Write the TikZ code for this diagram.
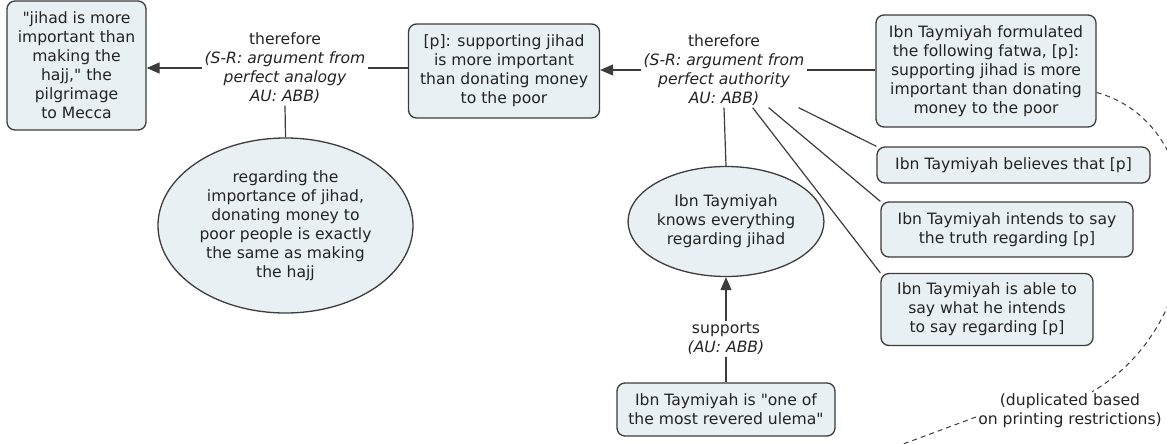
\documentclass[tikz,border=0pt]{standalone}
\usepackage{fontspec}
\setmainfont[Ligatures=TeXOff]{DejaVu Sans}
\usetikzlibrary{arrows.meta,shapes.geometric,calc}
\definecolor{boxfill}{RGB}{233,240,243}
\definecolor{ink}{RGB}{35,35,35}
\definecolor{edge}{RGB}{60,60,60}
\begin{document}
\begin{tikzpicture}[x=1pt,y=-1pt,
  every node/.style={font=\fontsize{15.6}{19}\selectfont, text=ink},
  claim/.style={draw=edge, line width=1.3pt, fill=boxfill, rounded corners=8pt,
                align=center, inner sep=0pt},
  bubble/.style={ellipse, draw=edge, line width=1.3pt, fill=boxfill,
                 align=center, inner sep=0pt},
  link/.style={align=center, inner sep=2pt},
  conn/.style={draw=edge, line width=1.2pt},
  arr/.style={conn, -{Triangle[length=13pt,width=11pt]}},
  dup/.style={draw=edge, line width=1pt, dash pattern=on 5pt off 4pt},
]
\useasboundingbox (0,0) rectangle (1167,444);

% conclusions and premises
\node[claim, minimum width=139pt, minimum height=129pt] (A) at (76.5,65.5)
  {"jihad is more\\important than\\making the\\hajj," the\\pilgrimage\\to Mecca};
\node[claim, minimum width=191pt, minimum height=94pt] (B) at (504,71)
  {[p]: supporting jihad\\is more important\\than donating money\\to the poor};
\node[claim, minimum width=220pt, minimum height=112pt] (C) at (986,71)
  {Ibn Taymiyah formulated\\the following fatwa, [p]:\\supporting jihad is more\\important than donating\\money to the poor};
\node[claim, minimum width=273pt, minimum height=36pt] (D) at (1013.5,165)
  {Ibn Taymiyah believes that [p]};
\node[claim, minimum width=252pt, minimum height=55pt] (E) at (1007,229.5)
  {Ibn Taymiyah intends to say\\the truth regarding [p]};
\node[claim, minimum width=212pt, minimum height=72pt] (F) at (987,309.5)
  {Ibn Taymiyah is able to\\say what he intends\\to say regarding [p]};
\node[claim, minimum width=218pt, minimum height=53pt] (I) at (726,409.5)
  {Ibn Taymiyah is "one of\\the most revered ulema"};
\node[bubble, minimum width=186pt, minimum height=110pt] (G) at (726,221.5)
  {Ibn Taymiyah\\knows everything\\regarding jihad};
\node[bubble, minimum width=255pt, minimum height=175pt] (H) at (285.5,225.5)
  {regarding the\\importance of jihad,\\donating money to\\poor people is exactly\\the same as making\\the hajj};

% inference labels
\node[link] (L1) at (285,68)
  {therefore\\\itshape (S-R: argument from\\\itshape perfect analogy\\\itshape AU: ABB)};
\node[link] (L2) at (724,70)
  {therefore\\\itshape (S-R: argument from\\\itshape perfect authority\\\itshape AU: ABB)};
\node[link] (L3) at (726,339)
  {supports\\\itshape (AU: ABB)};

% connectors
\draw[arr] (L1.west) -- (L1.west -| A.east);
\draw[conn] (B.west |- L1.east) -- (L1.east);
\draw[conn] (L1.south) -- (H.north);

\draw[arr] (L2.west) -- (L2.west -| B.east);
\draw[conn] (L2.east) -- (L2.east -| C.west);
\draw[conn] (L2.south) -- (G.north);
\draw[conn] ([xshift=-8pt]L2.south east) -- (D.north west);
\draw[conn] ([xshift=-38pt]L2.south east) -- (E.north west);
\draw[conn] ([xshift=-54pt]L2.south east) -- (F.north west);

\draw[arr] (L3.north) -- (G.south);
\draw[conn] (L3.south) -- (I.north);

% duplicated-node note
\node[link] (N) at (1070,411) {(duplicated based\\on printing restrictions)};
\coordinate (Nend) at (895,447);
\draw[dup] (C.-11) .. controls (1215,125) and (1215,320) .. ([xshift=22pt]N.north);
\draw[dup] ([yshift=-6pt]N.west) -- (Nend);
\end{tikzpicture}
\end{document}
